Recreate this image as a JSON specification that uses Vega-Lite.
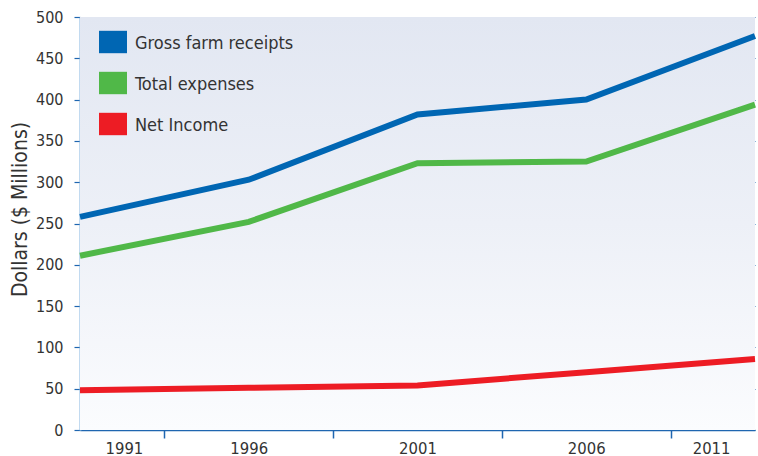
{
  "$schema": "https://vega.github.io/schema/vega-lite/v6.json",
  "width": 675,
  "height": 413,
  "autosize": {"type": "none"},
  "padding": {"left": 80, "top": 17, "right": 3, "bottom": 26},
  "background": "white",
  "config": {
    "view": {"stroke": null},
    "font": "Liberation Sans Narrow, DejaVu Sans Condensed, Roboto Condensed, Roboto, sans-serif"
  },
  "layer": [
    {
      "data": {"values": [{"bg": 1}]},
      "mark": {
        "type": "rect",
        "color": {
          "gradient": "linear",
          "x1": 0, "y1": 0, "x2": 0, "y2": 1,
          "stops": [
            {"offset": 0, "color": "#e2e7f2"},
            {"offset": 0.5, "color": "#edf0f7"},
            {"offset": 1, "color": "#fbfcfe"}
          ]
        }
      },
      "encoding": {
        "x": {"datum": 1991, "type": "quantitative"},
        "x2": {"datum": 2011},
        "y": {"datum": 0, "type": "quantitative"},
        "y2": {"datum": 500}
      }
    },
    {
      "data": {
        "values": [
          {"year": 1991, "series": "Gross farm receipts", "value": 258},
          {"year": 1996, "series": "Gross farm receipts", "value": 303},
          {"year": 2001, "series": "Gross farm receipts", "value": 382},
          {"year": 2006, "series": "Gross farm receipts", "value": 400},
          {"year": 2011, "series": "Gross farm receipts", "value": 477},
          {"year": 1991, "series": "Total expenses", "value": 211},
          {"year": 1996, "series": "Total expenses", "value": 252},
          {"year": 2001, "series": "Total expenses", "value": 323},
          {"year": 2006, "series": "Total expenses", "value": 325},
          {"year": 2011, "series": "Total expenses", "value": 394},
          {"year": 1991, "series": "Net Income", "value": 48},
          {"year": 1996, "series": "Net Income", "value": 51},
          {"year": 2001, "series": "Net Income", "value": 54},
          {"year": 2006, "series": "Net Income", "value": 70},
          {"year": 2011, "series": "Net Income", "value": 86}
        ]
      },
      "mark": {"type": "line", "strokeWidth": 6, "strokeJoin": "miter", "strokeCap": "butt"},
      "encoding": {
        "x": {
          "field": "year",
          "type": "quantitative",
          "scale": {"domain": [1991, 2011], "nice": false, "zero": false},
          "axis": {
            "title": null,
            "values": [1991, 1993.5, 1996, 1998.5, 2001, 2003.5, 2006, 2008.5, 2011],
            "format": "d",
            "labelExpr": "datum.value % 5 == 1 ? datum.label : ''",
            "grid": false,
            "domainColor": "#1f66b0",
            "domainWidth": 1.5,
            "tickColor": "#1f66b0",
            "tickWidth": 1.5,
            "tickSize": 8,
            "tickOpacity": {"condition": {"test": "datum.value % 5 == 1", "value": 0}, "value": 1},
            "labelFontSize": 16.5,
            "labelColor": "#333333",
            "labelPadding": 2,
            "labelFlush": true,
            "labelFlushOffset": -25
          }
        },
        "y": {
          "field": "value",
          "type": "quantitative",
          "scale": {"domain": [0, 500], "nice": false},
          "axis": {
            "title": "Dollars ($ Millions)",
            "values": [0, 50, 100, 150, 200, 250, 300, 350, 400, 450, 500],
            "grid": true,
            "gridColor": "#1f66b0",
            "gridWidth": 1.2,
            "domainColor": "#85b6e2",
            "domainWidth": 2,
            "tickColor": "#1f66b0",
            "tickWidth": 1.2,
            "tickSize": 6,
            "labelFontSize": 16,
            "labelColor": "#333333",
            "labelPadding": 11,
            "titleFontSize": 21,
            "titleFontWeight": "normal",
            "titleColor": "#333333",
            "titleY": 192,
            "titleX": -50
          }
        },
        "color": {
          "field": "series",
          "type": "nominal",
          "sort": ["Gross farm receipts", "Total expenses", "Net Income"],
          "scale": {
            "domain": ["Gross farm receipts", "Total expenses", "Net Income"],
            "range": ["#0066b3", "#50b848", "#ed1c24"]
          },
          "legend": {
            "title": null,
            "orient": "none",
            "legendX": 19,
            "legendY": 11,
            "padding": 0,
            "symbolType": "M-1,-0.8L1,-0.8L1,0.8L-1,0.8Z",
            "symbolSize": 784,
            "symbolStrokeWidth": 0,
            "labelFontSize": 18,
            "labelColor": "#333333",
            "labelOffset": 8,
            "rowPadding": 15,
            "labelLimit": 300,
            "encode": {
              "symbols": {"update": {"fill": {"scale": "color", "field": "value"}, "fillOpacity": {"value": 1}, "strokeWidth": {"value": 0}}},
              "labels": {"update": {"dy": {"value": 2}}}
            }
          }
        }
      }
    }
  ]
}
